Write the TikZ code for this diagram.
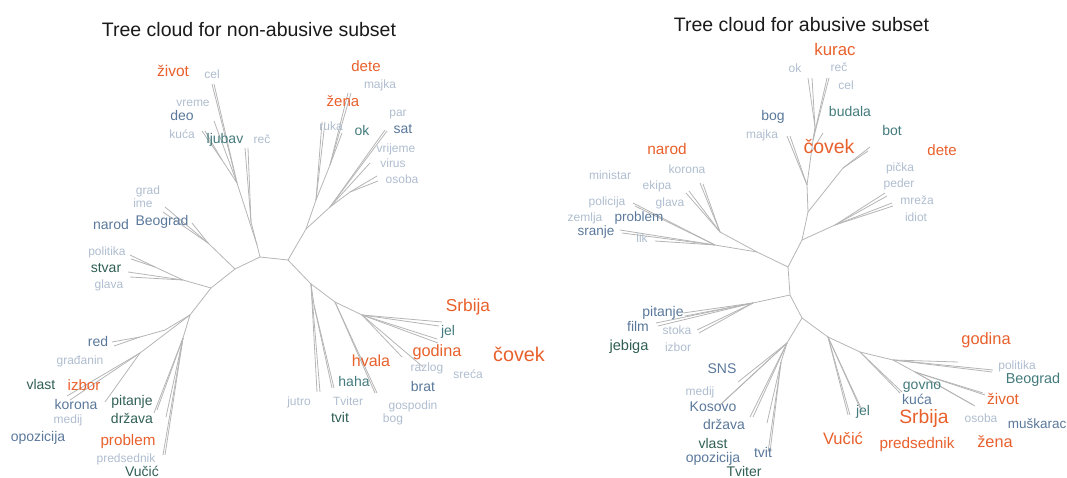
\documentclass[tikz,border=0pt]{standalone}
\usepackage{fontspec}
\setmainfont{Liberation Sans}
\definecolor{cOr}{HTML}{E8602C}
\definecolor{cTl}{HTML}{437A7C}
\definecolor{cDg}{HTML}{2F5F55}
\definecolor{cBl}{HTML}{5A789B}
\definecolor{cLt}{HTML}{AFBDCF}
\definecolor{cBr}{HTML}{B5B5B5}
\definecolor{cTitle}{HTML}{1A1A1A}
\tikzset{
  word/.style={inner sep=0pt, anchor=mid, yshift=-1pt},
  lt/.style={word, text=cLt, font=\fontsize{12}{12}\selectfont},
  bl/.style={word, text=cBl, font=\fontsize{#1}{#1}\selectfont}, bl/.default=14,
  tl/.style={word, text=cTl, font=\fontsize{#1}{#1}\selectfont}, tl/.default=14,
  dg/.style={word, text=cDg, font=\fontsize{#1}{#1}\selectfont}, dg/.default=14,
  og/.style={word, text=cOr, font=\fontsize{#1}{#1}\selectfont}, og/.default=15.5,
  ttl/.style={inner sep=0pt, anchor=base, text=cTitle, font=\fontsize{19.5}{19.5}\selectfont},
  br/.style={draw=cBr, line width=0.8pt}
}
\begin{document}
\begin{tikzpicture}[x=1pt,y=-1pt]
\useasboundingbox (0,0) rectangle (1067,478);

% ---------- titles ----------
\node[ttl] (tL) at (249,36.5) {Tree cloud for non-abusive subset};
\node[ttl] (tR) at (801.5,31.5) {Tree cloud for abusive subset};

% ---------- non-abusive tree: junctions and leaf ends ----------
\coordinate (LA) at (260,257);  \coordinate (LB) at (288,260);
\coordinate (LC) at (235,269);  \coordinate (LD) at (211,288);
\coordinate (La1) at (257,245); \coordinate (La2) at (251,222);
\coordinate (La3) at (237,183); \coordinate (La5) at (222,160);
\coordinate (Lrc1) at (245,148); \coordinate (Lrc2) at (248,148);
\coordinate (Lce1) at (212,84);  \coordinate (Lce2) at (214,84);
\coordinate (Lvr) at (214,121);
\coordinate (Lku1) at (202,131); \coordinate (Lku2) at (205,131);
\coordinate (Lc1) at (208,243);
\coordinate (Lbg1) at (165,207); \coordinate (Lbg2) at (163,212); \coordinate (Lbg3) at (192,223);
\coordinate (Le1) at (183,280); \coordinate (Le2) at (155,267);
\coordinate (Lpo1) at (130,255); \coordinate (Lpo2) at (131,259);
\coordinate (Lst1) at (128,272); \coordinate (Lst2) at (130,277);
\coordinate (LF) at (190,315);
\coordinate (Lf1) at (165,330); \coordinate (Lf2) at (140,337);
\coordinate (Lrd1) at (112,342); \coordinate (Lrd2) at (114,346);
\coordinate (Lf3) at (140,353);
\coordinate (Lk1) at (67,396); \coordinate (Lk2) at (70,400); \coordinate (Lk3) at (105,402);
\coordinate (Lg1) at (183,338);
\coordinate (Lpi1) at (157,410); \coordinate (Lpi2) at (154,413); \coordinate (Lpi3) at (166,417);
\coordinate (Lpr1) at (163,455); \coordinate (Lpr2) at (165,455);
\coordinate (LQ) at (306,229);
\coordinate (Lq1) at (330,207);
\coordinate (Lsa1) at (385,130); \coordinate (Lsa2) at (387,131);
\coordinate (Lvi) at (370,163);
\coordinate (Lq2) at (350,192);
\coordinate (Los1) at (377,176); \coordinate (Los2) at (378,181);
\coordinate (Lq3) at (316,200);
\coordinate (Lru1) at (322,122); \coordinate (Lru2) at (325,122);
\coordinate (Lq4) at (330,165); \coordinate (Lq5) at (342,133);
\coordinate (Lze1) at (348,93); \coordinate (Lze2) at (351,93);
\coordinate (LR) at (311,284);
\coordinate (Lju1) at (317,392); \coordinate (Lju2) at (320,392);
\coordinate (Lr1) at (314,305);
\coordinate (Ltv1) at (332,388); \coordinate (Ltv2) at (334,388);
\coordinate (LS) at (335,302);
\coordinate (Lha1) at (375,393); \coordinate (Lha2) at (377,393);
\coordinate (LT) at (362,315);
\coordinate (Lsr1) at (442,322); \coordinate (Lsr2) at (439,326);
\coordinate (Lje1) at (437,339); \coordinate (Lje2) at (438,343);
\coordinate (Lgo1) at (402,357); \coordinate (Lgo2) at (423,367);

\foreach \a/\b in {LA/LB, LA/LC, LC/LD,
  LA/La1, La1/La2, La2/Lrc1, La2/Lrc2, La1/La3, La3/Lce1, La3/Lce2, La3/Lvr,
  La3/La5, La5/Lku1, La5/Lku2,
  LC/Lc1, Lc1/Lbg1, Lc1/Lbg2, Lc1/Lbg3,
  LD/Le1, Le1/Le2, Le2/Lpo1, Le2/Lpo2, Le1/Lst1, Le1/Lst2,
  LD/LF, LF/Lf1, Lf1/Lf2, Lf2/Lrd1, Lf2/Lrd2,
  LF/Lf3, Lf3/Lk1, Lf3/Lk2, Lf3/Lk3,
  LF/Lg1, Lg1/Lpi1, Lg1/Lpi2, Lg1/Lpi3, Lg1/Lpr1, Lg1/Lpr2,
  LB/LQ, LQ/Lq1, Lq1/Lsa1, Lq1/Lsa2, Lq1/Lvi, Lq1/Lq2, Lq2/Los1, Lq2/Los2,
  LQ/Lq3, Lq3/Lru1, Lq3/Lru2, Lq3/Lq4, Lq4/Lze1, Lq4/Lze2, Lq4/Lq5,
  LB/LR, LR/Lju1, LR/Lju2, LR/Lr1, Lr1/Ltv1, Lr1/Ltv2,
  LR/LS, LS/Lha1, LS/Lha2, LS/LT,
  LT/Lsr1, LT/Lsr2, LT/Lje1, LT/Lje2, LT/Lgo1, LT/Lgo2}
  \draw[br] (\a) -- (\b);

% ---------- non-abusive tree: words ----------
\node[og]     (Lzivot)   at (173,73)  {život};
\node[lt]     (Lcel)     at (212,75)  {cel};
\node[lt]     (Lvreme)   at (193,103) {vreme};
\node[bl]     (Ldeo)     at (182,117) {deo};
\node[lt]     (Lkuca)    at (182,135) {kuća};
\node[tl]     (Lljubav)  at (225,140) {ljubav};
\node[lt]     (Lrec)     at (262,140) {reč};
\node[lt]     (Lgrad)    at (148,191) {grad};
\node[lt]     (Lime)     at (143,204) {ime};
\node[bl]     (Lnarod)   at (111,226) {narod};
\node[bl]     (Lbeograd) at (162,222) {Beograd};
\node[lt]     (Lpolitika) at (107,252) {politika};
\node[dg]     (Lstvar)   at (106,269) {stvar};
\node[lt]     (Lglava)   at (109,285) {glava};
\node[bl]     (Lred)     at (98,343)  {red};
\node[lt]     (Lgradjanin) at (80,361) {građanin};
\node[dg]     (Lvlast)   at (41,386)  {vlast};
\node[og=15]  (Lizbor)   at (84,387)  {izbor};
\node[bl]     (Lkorona)  at (76,406)  {korona};
\node[lt]     (Lmedij)   at (68,420)  {medij};
\node[dg]     (Lpitanje) at (132,402) {pitanje};
\node[dg]     (Ldrzava)  at (132,420) {država};
\node[bl]     (Lopozicija) at (38,438) {opozicija};
\node[og=15.2] (Lproblem) at (128,442) {problem};
\node[lt]     (Lpredsednik) at (126,459) {predsednik};
\node[dg]     (Lvucic)   at (142,472.5) {Vučić};
\node[og=15]  (Ldete)    at (366,68)  {dete};
\node[lt]     (Lmajka)   at (380,85)  {majka};
\node[og=15]  (Lzena)    at (343,103) {žena};
\node[lt]     (Lpar)     at (398,113) {par};
\node[lt]     (Lruka)    at (331,127) {ruka};
\node[tl]     (Lok)      at (362,132) {ok};
\node[bl]     (Lsat)     at (403,130) {sat};
\node[lt]     (Lvrijeme) at (396,149) {vrijeme};
\node[lt]     (Lvirus)   at (393,164) {virus};
\node[lt]     (Losoba)   at (402,180) {osoba};
\node[og=17.3] (Lsrbija) at (468,308) {Srbija};
\node[tl]     (Ljel)     at (448,332) {jel};
\node[og=16.3] (Lgodina) at (437,353) {godina};
\node[og=19.8] (Lcovek)  at (519,358) {čovek};
\node[og=16]  (Lhvala)   at (371,363) {hvala};
\node[lt]     (Lrazlog)  at (427,368) {razlog};
\node[lt]     (Lsreca)   at (468,375) {sreća};
\node[tl]     (Lhaha)    at (354,383) {haha};
\node[bl]     (Lbrat)    at (423,388) {brat};
\node[lt]     (Ljutro)   at (299,402) {jutro};
\node[lt]     (Ltviter)  at (348,402) {Tviter};
\node[lt]     (Lgospodin) at (413,406) {gospodin};
\node[dg]     (Ltvit)    at (340,419) {tvit};
\node[lt]     (Lbog)     at (393,419) {bog};

% ---------- abusive tree: junctions and leaf ends ----------
\coordinate (RJ1) at (788,267); \coordinate (RJ2) at (802,240);
\coordinate (RK) at (757,252);  \coordinate (RJ3) at (790,295);
\coordinate (RJ4) at (802,318);
\coordinate (RU) at (808,212); \coordinate (RV) at (807,185);
\coordinate (Rbm1) at (787,136); \coordinate (Rbm2) at (790,136);
\coordinate (RW) at (813,140); \coordinate (RW2) at (815,127);
\coordinate (Rok1) at (808,78); \coordinate (Rok2) at (812,78);
\coordinate (Rre1) at (827,78); \coordinate (Rre2) at (829,78);
\coordinate (Rcv0) at (811.4,152); \coordinate (Rcv) at (823,133);
\coordinate (RX) at (843,168);
\coordinate (Rbo1) at (870,147); \coordinate (Rbo2) at (868,151);
\coordinate (RY) at (835,225);
\coordinate (Rpe1) at (885,193); \coordinate (Rpe2) at (887,196);
\coordinate (Rpe3) at (892,203); \coordinate (Rpe4) at (893,206);
\coordinate (Rk1) at (720,232);
\coordinate (Rna1) at (700,183); \coordinate (Rna2) at (703,184);
\coordinate (Rna3) at (686,193); \coordinate (Rna4) at (689,191);
\coordinate (Rk2) at (715,245);
\coordinate (Rpl1) at (633,203); \coordinate (Rpl2) at (635,206);
\coordinate (Rsj1) at (620,230); \coordinate (Rsj2) at (622,233);
\coordinate (Rlk) at (655,241);
\coordinate (Rp0) at (753,303);
\coordinate (Rpt1) at (683,313); \coordinate (Rpt2) at (685,316);
\coordinate (Rpt3) at (656,323); \coordinate (Rpt4) at (658,326);
\coordinate (Rpt5) at (697,330); \coordinate (Rpt6) at (699,333);
\coordinate (RZ) at (787,343);
\coordinate (Rsn) at (738,382);
\coordinate (Rkv1) at (719,406); \coordinate (Rkv2) at (721,404);
\coordinate (Rdr1) at (750,417); \coordinate (Rdr2) at (753,417);
\coordinate (Rz2) at (781,362);
\coordinate (Rtv) at (767,423);
\coordinate (Rtw1) at (768,452); \coordinate (Rtw2) at (770,452);
\coordinate (RJ5) at (828,337);
\coordinate (Rjl1) at (848,415); \coordinate (Rjl2) at (850,415);
\coordinate (Rjl3) at (860,408); \coordinate (Rjl4) at (862,410);
\coordinate (RJ6) at (860,352);
\coordinate (Rgv1) at (900,393); \coordinate (Rgv2) at (902,392);
\coordinate (RJ7) at (893,360);
\coordinate (Rgd) at (958,362);
\coordinate (Rbg1) at (992,372); \coordinate (Rbg2) at (993,370);
\coordinate (RJ8) at (915,372);
\coordinate (Rzv1) at (983,393); \coordinate (Rzv2) at (985,395);
\coordinate (Ros1) at (973,405); \coordinate (Ros2) at (975,406);

\foreach \a/\b in {RJ1/RJ2, RJ1/RK, RJ1/RJ3, RJ3/RJ4,
  RJ2/RU, RU/RV, RV/Rbm1, RV/Rbm2, RV/RW, RW/Rre1, RW/Rre2, RW/RW2,
  RW2/Rok1, RW2/Rok2, Rcv0/Rcv,
  RU/RX, RX/Rbo1, RX/Rbo2,
  RJ2/RY, RY/Rpe1, RY/Rpe2, RY/Rpe3, RY/Rpe4,
  RK/Rk1, Rk1/Rna1, Rk1/Rna2, Rk1/Rna3, Rk1/Rna4,
  RK/Rk2, Rk2/Rpl1, Rk2/Rpl2, Rk2/Rsj1, Rk2/Rsj2, Rk2/Rlk,
  RJ3/Rp0, Rp0/Rpt1, Rp0/Rpt2, Rp0/Rpt3, Rp0/Rpt4, Rp0/Rpt5, Rp0/Rpt6,
  RJ4/RZ, RZ/Rsn, RZ/Rkv1, RZ/Rkv2, RZ/Rdr1, RZ/Rdr2, RZ/Rz2,
  Rz2/Rtv, Rz2/Rtw1, Rz2/Rtw2,
  RJ4/RJ5, RJ5/Rjl1, RJ5/Rjl2, RJ5/Rjl3, RJ5/Rjl4,
  RJ5/RJ6, RJ6/Rgv1, RJ6/Rgv2, RJ6/RJ7, RJ7/Rgd, RJ7/Rbg1, RJ7/Rbg2,
  RJ7/RJ8, RJ8/Rzv1, RJ8/Rzv2, RJ8/Ros1, RJ8/Ros2}
  \draw[br] (\a) -- (\b);

% ---------- abusive tree: words ----------
\node[og=16.8] (Rkurac)  at (835,52)  {kurac};
\node[lt]     (Rok)      at (795,69)  {ok};
\node[lt]     (Rrec)     at (839,68)  {reč};
\node[lt]     (Rcel)     at (846,86)  {cel};
\node[bl]     (Rbog)     at (773,117) {bog};
\node[lt]     (Rmajka)   at (762,135) {majka};
\node[tl]     (Rbudala)  at (850,113) {budala};
\node[tl]     (Rbot)     at (892,132) {bot};
\node[og=19.5] (Rcovek)  at (829,150) {čovek};
\node[og=15]  (Rdete)    at (942,152) {dete};
\node[lt]     (Rpicka)   at (900,168) {pička};
\node[lt]     (Rpeder)   at (899,184) {peder};
\node[lt]     (Rmreza)   at (917,201) {mreža};
\node[lt]     (Ridiot)   at (916,218) {idiot};
\node[og=15.4] (Rnarod)  at (667,151) {narod};
\node[lt]     (Rkorona)  at (687,170) {korona};
\node[lt]     (Rministar) at (610,176) {ministar};
\node[lt]     (Rekipa)   at (657,186) {ekipa};
\node[lt]     (Rpolicija) at (607,202) {policija};
\node[lt]     (Rglava)   at (670,203) {glava};
\node[lt]     (Rzemlja)  at (585,218) {zemlja};
\node[bl=13.5] (Rproblem) at (639,218) {problem};
\node[bl=13.5] (Rsranje) at (596,232) {sranje};
\node[lt]     (Rlik)     at (642,239) {lik};
\node[bl]     (Rpitanje) at (663,313) {pitanje};
\node[bl]     (Rfilm)    at (638,328) {film};
\node[lt]     (Rstoka)   at (677,331) {stoka};
\node[dg=14.6] (Rjebiga) at (629,347) {jebiga};
\node[lt]     (Rizbor)   at (678,348) {izbor};
\node[bl]     (Rsns)     at (722,370) {SNS};
\node[lt]     (Rmedij)   at (700,392) {medij};
\node[bl]     (Rkosovo)  at (713,408) {Kosovo};
\node[bl]     (Rdrzava)  at (724,426) {država};
\node[dg]     (Rvlast)   at (713,445) {vlast};
\node[bl]     (Ropozicija) at (713,459) {opozicija};
\node[bl]     (Rtvit)    at (763,454) {tvit};
\node[dg]     (Rtviter)  at (744,472.5) {Tviter};
\node[og=16.4] (Rgodina) at (986,341) {godina};
\node[lt]     (Rpolitika) at (1017,366) {politika};
\node[tl=14.4] (Rbeograd) at (1033,380) {Beograd};
\node[tl]     (Rgovno)   at (922,386) {govno};
\node[bl]     (Rkuca)    at (917,401) {kuća};
\node[og=15.4] (Rzivot)  at (1003,401) {život};
\node[tl]     (Rjel)     at (863,412) {jel};
\node[og=19.3] (Rsrbija) at (924,420) {Srbija};
\node[lt]     (Rosoba)   at (981,419) {osoba};
\node[bl=13.5] (Rmuskarac) at (1037,425) {muškarac};
\node[og=16.6] (Rvucic)  at (843,441) {Vučić};
\node[og=15.3] (Rpredsednik) at (917,445) {predsednik};
\node[og=16.3] (Rzena)   at (995,444) {žena};
\end{tikzpicture}
\end{document}
